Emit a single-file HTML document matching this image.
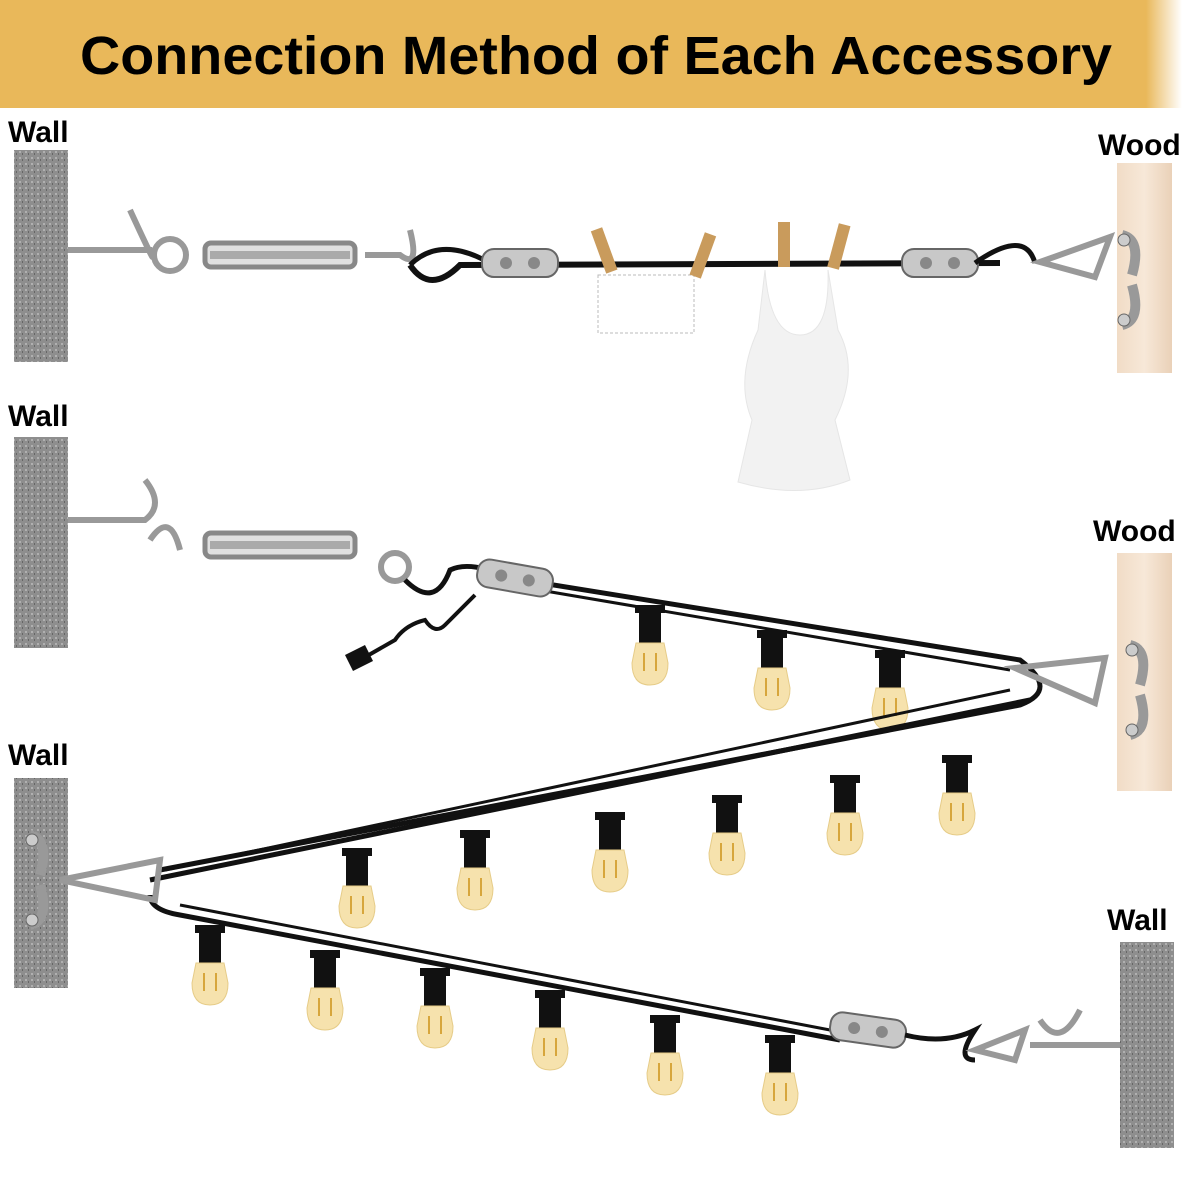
<!DOCTYPE html>
<html><head><meta charset="utf-8"><style>
html,body{margin:0;padding:0;background:#fff;width:1200px;height:1200px;overflow:hidden}
svg{display:block}
</style></head><body>
<svg width="1200" height="1200" viewBox="0 0 1200 1200" xmlns="http://www.w3.org/2000/svg" font-family="Liberation Sans, sans-serif">
<defs>
<linearGradient id="hg" x1="0" x2="1" y1="0" y2="0">
<stop offset="0" stop-color="#E9B85A"/><stop offset="0.955" stop-color="#E9B85A"/><stop offset="0.985" stop-color="#fff"/>
</linearGradient>
<pattern id="stone" width="6" height="6" patternUnits="userSpaceOnUse">
<rect width="6" height="6" fill="#8e8e8e"/><rect x="1" y="1" width="2" height="2" fill="#b0b0b0"/><rect x="4" y="3" width="1" height="2" fill="#666"/>
</pattern>
<linearGradient id="wood" x1="0" x2="1"><stop offset="0" stop-color="#f1dcc6"/><stop offset="0.5" stop-color="#f7e8d8"/><stop offset="1" stop-color="#ead1b8"/></linearGradient>
<g id="bulb">
<path d="M-15,0 h30 v8 h-4 v30 h-22 v-30 h-4z" fill="#111"/>
<path d="M-14,38 h28 l4,20 q0,22 -18,22 q-18,0 -18,-22z" fill="#f6e2ad" stroke="#e6cc88" stroke-width="1"/>
<path d="M-6,48 v18 M6,48 v18" stroke="#d7a63c" stroke-width="2"/>
</g>
<g id="plate">
<path d="M0,-45 q20,5 10,40 M0,45 q20,-5 10,-40" stroke="#999" stroke-width="10" fill="none"/>
<circle cx="2" cy="-40" r="6" fill="#ccc" stroke="#666"/><circle cx="2" cy="40" r="6" fill="#ccc" stroke="#666"/>
</g>
<g id="clamp">
<rect x="-38" y="-14" width="76" height="28" rx="12" fill="#c8c8c8" stroke="#666" stroke-width="2"/>
<circle cx="-14" cy="0" r="6" fill="#888"/><circle cx="14" cy="0" r="6" fill="#888"/>
</g>
<g id="turn">
<rect x="-75" y="-12" width="150" height="24" rx="6" fill="#e0e0e0" stroke="#888" stroke-width="5"/>
<rect x="-70" y="-4" width="140" height="8" fill="#aaa"/>
</g>
</defs>
<rect x="0" y="0" width="1200" height="108" fill="url(#hg)"/>
<text x="80" y="74" font-size="54" font-weight="bold" textLength="1032" lengthAdjust="spacingAndGlyphs">Connection Method of Each Accessory</text>

<g font-size="30" font-weight="bold">
<text x="8" y="142">Wall</text>
<text x="1098" y="155">Wood</text>
<text x="8" y="426">Wall</text>
<text x="1093" y="541">Wood</text>
<text x="8" y="765">Wall</text>
<text x="1107" y="930">Wall</text>
</g>

<rect x="14" y="150" width="54" height="212" fill="url(#stone)"/>
<rect x="14" y="437" width="54" height="211" fill="url(#stone)"/>
<rect x="14" y="778" width="54" height="210" fill="url(#stone)"/>
<rect x="1120" y="942" width="54" height="206" fill="url(#stone)"/>
<rect x="1117" y="163" width="55" height="210" fill="url(#wood)"/>
<rect x="1117" y="553" width="55" height="238" fill="url(#wood)"/>

<!-- row 1 -->
<g stroke="#999" stroke-width="6" fill="none">
<path d="M68,250 H150 q10,25 -20,-40"/><circle cx="170" cy="255" r="16"/>
<path d="M365,255 H400 q20,15 10,-25"/>
</g>
<use href="#turn" x="280" y="255"/>
<path d="M410,265 q20,30 50,0 L1000,263" stroke="#111" stroke-width="6" fill="none"/>
<path d="M410,265 q30,-30 80,-2" stroke="#111" stroke-width="5" fill="none"/>
<use href="#clamp" x="520" y="263"/>
<use href="#clamp" x="940" y="263"/>
<path d="M975,263 q50,-35 60,0" stroke="#111" stroke-width="5" fill="none"/>
<path d="M1040,262 l70,-25 l-15,40 z" stroke="#999" stroke-width="6" fill="none"/>
<use href="#plate" x="1122" y="280"/>
<rect x="598" y="275" width="96" height="58" fill="none" stroke="#bbb" stroke-dasharray="3,2"/>
<g fill="#c99b5c"><rect x="598" y="228" width="12" height="45" transform="rotate(-20 604 250)"/><rect x="697" y="233" width="12" height="45" transform="rotate(20 703 255)"/><rect x="778" y="222" width="12" height="45"/><rect x="833" y="224" width="12" height="45" transform="rotate(15 839 246)"/></g>
<path d="M765,270 L758,330 Q735,380 752,420 L738,482 Q800,500 850,480 L835,420 Q860,370 838,330 L828,270 Q830,335 800,335 Q770,335 765,270z" fill="#f2f2f2" stroke="#e6e6e6"/>

<!-- row 2 -->
<g stroke="#999" stroke-width="6" fill="none">
<path d="M68,520 H145 q20,-15 0,-40"/><path d="M150,540 q20,-30 30,10"/>
<circle cx="395" cy="567" r="14"/>
</g>
<use href="#turn" x="280" y="545"/>
<path d="M405,580 q30,30 45,-10 Q470,560 510,578 L1020,660 Q1060,690 1020,705 L160,870" stroke="#111" stroke-width="5" fill="none"/>
<path d="M510,585 L1010,670" stroke="#111" stroke-width="3" fill="none"/>
<path d="M475,595 q-15,15 -30,30 q-10,10 -20,-5 q-20,5 -30,20 L360,660" stroke="#111" stroke-width="4" fill="none"/>
<path d="M345,655 l20,-10 l8,16 l-20,10 z" fill="#111"/>
<use href="#clamp" x="515" y="578" transform="rotate(10 515 578)"/>
<path d="M1015,668 l90,-10 l-10,45 z" stroke="#999" stroke-width="6" fill="none"/>
<use href="#plate" x="1130" y="690"/>
<use href="#bulb" x="650" y="605"/><use href="#bulb" x="772" y="630"/><use href="#bulb" x="890" y="650"/>

<!-- rows 3/4 -->
<path d="M150,880 L1030,700 M150,895 Q150,910 180,915 L840,1040" stroke="#111" stroke-width="5" fill="none"/>
<path d="M165,870 L1010,690 M180,905 L830,1030" stroke="#111" stroke-width="3" fill="none"/>
<path d="M60,880 l100,-20 l-5,40 z" stroke="#999" stroke-width="6" fill="none"/>
<use href="#plate" x="30" y="880"/>
<use href="#bulb" x="357" y="848"/><use href="#bulb" x="475" y="830"/><use href="#bulb" x="610" y="812"/><use href="#bulb" x="727" y="795"/><use href="#bulb" x="845" y="775"/><use href="#bulb" x="957" y="755"/>
<use href="#bulb" x="210" y="925"/><use href="#bulb" x="325" y="950"/><use href="#bulb" x="435" y="968"/><use href="#bulb" x="550" y="990"/><use href="#bulb" x="665" y="1015"/><use href="#bulb" x="780" y="1035"/>
<use href="#clamp" x="868" y="1030" transform="rotate(8 868 1030)"/>
<path d="M905,1035 q40,10 70,-5 q-20,30 0,30" stroke="#111" stroke-width="5" fill="none"/>
<g stroke="#999" stroke-width="6" fill="none"><path d="M975,1050 l50,-20 l-10,30z"/><path d="M1030,1045 H1120"/><path d="M1040,1020 q20,30 40,-10"/></g>
</svg>
</body></html>
